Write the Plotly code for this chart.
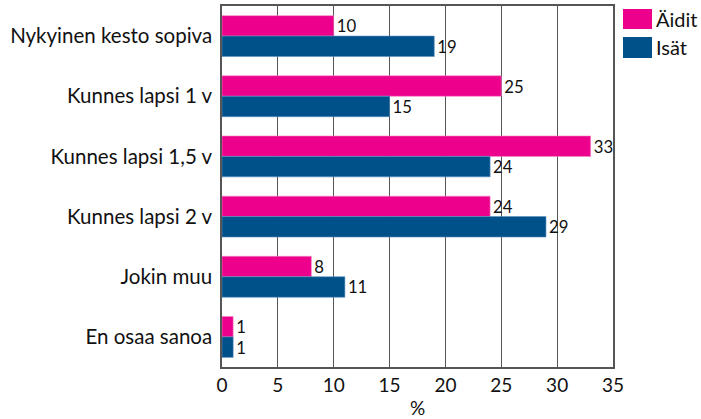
import plotly.graph_objects as go

# =========================================================
# Data
# =========================================================

categories = [
    "Nykyinen kesto sopiva",
    "Kunnes lapsi 1 v",
    "Kunnes lapsi 1,5 v",
    "Kunnes lapsi 2 v",
    "Jokin muu",
    "En osaa sanoa",
]

aidit = [10, 25, 33, 24, 8, 1]
isat = [19, 15, 24, 29, 11, 1]

x_ticks = [0, 5, 10, 15, 20, 25, 30, 35]

series_names = ["Äidit", "Isät"]
series_colors = ["#EC008C", "#00508A"]
edge_colors = ["#F48CC4", "#5A8FBE"]

# =========================================================
# Figure
# =========================================================

fig = go.Figure()

for name, values, color, edge in zip(series_names, [aidit, isat], series_colors, edge_colors):
    fig.add_trace(go.Bar(
        y=categories, x=values, name=name, orientation="h",
        marker=dict(color=color, line=dict(color=edge, width=0.6)),
        text=values, textposition="outside", cliponaxis=False,
        textfont=dict(size=18, color="#111111"),
        showlegend=False,
    ))

# legend drawn as boxes + labels (larger swatches than plotly's own)
legend_rows = [(0.9917, 0.9363), (0.9141, 0.8560)]
for (y1, y0), name, color in zip(legend_rows, series_names, series_colors):
    fig.add_shape(
        type="rect", xref="paper", yref="paper",
        x0=1.0256, x1=1.0997, y0=y0, y1=y1,
        fillcolor=color, line=dict(width=0),
    )
    fig.add_annotation(
        xref="paper", yref="paper", x=1.104, y=(y0 + y1) / 2,
        text=name, showarrow=False, xanchor="left", yanchor="middle",
        font=dict(size=20, color="#111111"),
    )

fig.update_layout(
    width=701,
    height=419,
    barmode="group",
    bargap=0.32,
    bargroupgap=0,
    paper_bgcolor="white",
    plot_bgcolor="white",
    font=dict(family="Lato", size=18, color="#111111"),
    margin=dict(l=222, r=88, t=6, b=52, autoexpand=False),
    showlegend=False,
)

fig.update_xaxes(
    range=[0, 35],
    tickvals=x_ticks,
    showgrid=True, gridcolor="#555555", gridwidth=1,
    showline=True, linecolor="#555555", linewidth=1.5, mirror=True,
    ticks="", tickfont=dict(size=19), ticklabelstandoff=0,
    title=dict(text="%", font=dict(size=19), standoff=8),
    zeroline=False, automargin=False,
)

fig.update_yaxes(
    autorange="reversed",
    showgrid=False,
    showline=True, linecolor="#555555", linewidth=1.5, mirror=True,
    ticks="", tickfont=dict(size=20.5), ticklabelstandoff=4,
    automargin=False,
)

# page body has an 8px default margin; remove it so the figure sits at 0,0
fig.write_html(
    "out.html",
    config={"displayModeBar": False},
    post_script="document.body.style.margin='0';",
)
